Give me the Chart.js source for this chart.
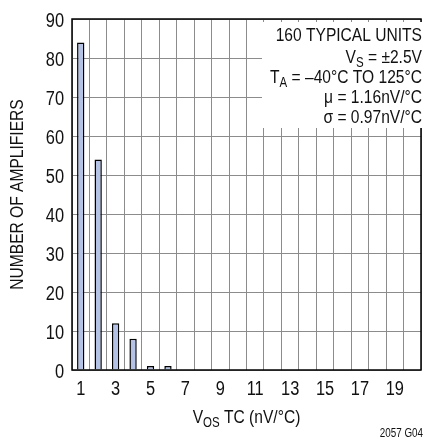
<!DOCTYPE html>
<html>
<head>
<meta charset="utf-8">
<script src="https://cdn.jsdelivr.net/npm/chart.js@4.4.1/dist/chart.umd.min.js"></script>
<style>
  html, body { margin: 0; padding: 0; background: #ffffff; }
  #wrap { width: 425px; height: 440px; }
</style>
</head>
<body>
<div id="wrap"><canvas id="histChart" width="425" height="440"></canvas></div>
<script>
// histogram data
const categories = ['1', '2', '3', '4', '5', '6', '7', '8', '9', '10',
                    '11', '12', '13', '14', '15', '16', '17', '18', '19', '20'];
const amplifierCounts = [84, 54, 12, 8, 1, 1, 0, 0, 0, 0,
                         0, 0, 0, 0, 0, 0, 0, 0, 0, 0];
const xTickLabels = ['1', '3', '5', '7', '9', '11', '13', '15', '17', '19'];
const yTickValues = [0, 10, 20, 30, 40, 50, 60, 70, 80, 90];

// no narrow font installed, so squeeze Liberation Sans sideways
const FONT = "'Liberation Sans', Arial, sans-serif";
const NARROW = 0.82;

// draw text made of pieces, some subscripted
function drawRich(ctx, parts, x, y, size, align) {
  const subSize = Math.round(size * 0.72);
  let total = 0;
  parts.forEach(p => {
    ctx.font = (p.sub ? subSize : size) + 'px ' + FONT;
    total += ctx.measureText(p.t).width * NARROW;
  });
  let cx = align === 'right' ? x - total : (align === 'center' ? x - total / 2 : x);
  ctx.textAlign = 'left';
  ctx.textBaseline = 'alphabetic';
  parts.forEach(p => {
    ctx.font = (p.sub ? subSize : size) + 'px ' + FONT;
    ctx.save();
    ctx.translate(cx, p.sub ? y + size * 0.22 : y);
    ctx.scale(NARROW, 1);
    ctx.fillText(p.t, 0, 0);
    ctx.restore();
    cx += ctx.measureText(p.t).width * NARROW;
  });
}

const notesPlugin = {
  id: 'notes',
  afterDraw(chart) {
    const ctx = chart.ctx;
    const area = chart.chartArea;
    const xScale = chart.scales.x;
    const yScale = chart.scales.y;
    ctx.save();

    // plot frame
    ctx.strokeStyle = '#000000';
    ctx.lineWidth = 1.5;
    ctx.strokeRect(area.left, area.top, area.right - area.left, area.bottom - area.top);

    ctx.fillStyle = '#111111';

    // tick labels, placed by the scales
    categories.forEach((lbl, i) => {
      if (xTickLabels.includes(lbl)) {
        drawRich(ctx, [{ t: lbl }], xScale.getPixelForValue(i), area.bottom + 25, 20, 'center');
      }
    });
    yTickValues.forEach(v => {
      drawRich(ctx, [{ t: String(v) }], area.left - 8, yScale.getPixelForValue(v) + 7.5, 20, 'right');
    });

    // white box behind the conditions
    ctx.fillStyle = '#ffffff';
    ctx.fillRect(area.right - 159, area.top + 3, 162, 106);

    ctx.fillStyle = '#111111';
    const rx = area.right + 1;
    drawRich(ctx, [{ t: '160 TYPICAL UNITS' }], rx, area.top + 22, 19, 'right');
    drawRich(ctx, [{ t: 'V' }, { t: 'S', sub: true }, { t: ' = ±2.5V' }], rx, area.top + 43.5, 19, 'right');
    drawRich(ctx, [{ t: 'T' }, { t: 'A', sub: true }, { t: ' = –40°C TO 125°C' }], rx, area.top + 64, 19, 'right');
    drawRich(ctx, [{ t: 'μ = 1.16nV/°C' }], rx, area.top + 84, 19, 'right');
    drawRich(ctx, [{ t: 'σ = 0.97nV/°C' }], rx, area.top + 104, 19, 'right');

    // x axis title
    const cx = (area.left + area.right) / 2;
    drawRich(ctx, [{ t: 'V' }, { t: 'OS', sub: true }, { t: ' TC (nV/°C)' }], cx, 423, 19, 'center');

    // y axis title
    ctx.save();
    ctx.translate(23, (area.top + area.bottom) / 2);
    ctx.rotate(-Math.PI / 2);
    drawRich(ctx, [{ t: 'NUMBER OF AMPLIFIERS' }], 0, 0, 19, 'center');
    ctx.restore();

    // figure code
    drawRich(ctx, [{ t: '2057 G04' }], 423, 437, 12, 'right');

    ctx.restore();
  }
};

const histChart = new Chart(document.getElementById('histChart').getContext('2d'), {
  type: 'bar',
  data: {
    labels: categories,
    datasets: [{
      data: amplifierCounts,
      backgroundColor: '#b4c2e6',
      borderColor: '#000000',
      borderWidth: 1.5,
      borderSkipped: 'bottom',
      categoryPercentage: 1.0,
      barPercentage: 0.42
    }]
  },
  options: {
    responsive: false,
    animation: false,
    devicePixelRatio: 1,
    layout: { padding: { left: 0, top: 19, right: 4, bottom: 0 } },
    plugins: {
      legend: { display: false },
      tooltip: { enabled: false }
    },
    scales: {
      x: {
        offset: true,
        grid: { offset: true, color: '#8c8c8c', lineWidth: 1, drawTicks: false },
        border: { display: false },
        ticks: { display: false, autoSkip: false },
        afterFit: function(scale) { scale.height = 70; }
      },
      y: {
        min: yTickValues[0],
        max: yTickValues[yTickValues.length - 1],
        grid: { color: '#8c8c8c', lineWidth: 1, drawTicks: false },
        border: { display: false },
        ticks: { display: false, stepSize: 10 },
        afterFit: function(scale) { scale.width = 72; }
      }
    }
  },
  plugins: [notesPlugin]
});
</script>
</body>
</html>
